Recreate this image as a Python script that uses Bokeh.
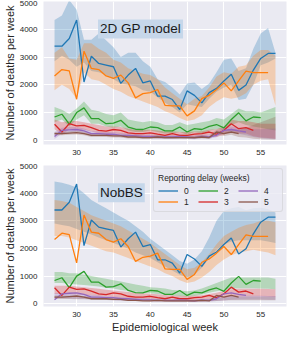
from bokeh.plotting import figure
from bokeh.layouts import column
from bokeh.models import Range1d, FixedTicker, Label, Legend, LegendItem
from bokeh.embed import file_html
from bokeh.resources import INLINE

weeks = list(range(27, 58))

# observed counts by reporting delay (weeks 27..)
obs_d0 = [3390, 3390, 3670, 4330, 2100, 3030, 2770, 2710, 2650, 2050, 2350, 2590, 2070, 2140, 1590, 1590,
          1470, 1110, 1780, 1620, 1350, 1720, 1870, 2140, 2380, 1800, 1990, 2530, 2950, 3130, 3130]
obs_d1 = [2320, 2550, 2500, 1480, 3210, 2590, 2550, 2320, 2230, 2350, 2070, 1530, 1680, 1720, 1830, 1260,
          1240, 1240, 880, 1060, 1500, 1620, 1830, 2070, 1780, 2140, 2490, 2440, 2440, 2440]
obs_d2 = [840, 940, 580, 1000, 1170, 780, 780, 600, 620, 720, 480, 400, 390, 480, 460, 340, 340, 480, 300,
          420, 390, 500, 570, 450, 750, 990, 700, 840, 820]
obs_d3 = [580, 300, 600, 520, 540, 460, 360, 330, 390, 360, 270, 240, 240, 270, 220, 180, 240, 180, 180,
          220, 240, 300, 220, 360, 600, 420, 460, 360]
obs_d4 = [140, 360, 380, 390, 340, 240, 240, 220, 220, 180, 180, 160, 140, 140, 120, 120, 120, 140, 120,
          100, 140, 120, 180, 360, 390, 340, 300]
obs_d5 = [240, 240, 260, 280, 240, 180, 180, 180, 160, 160, 120, 120, 100, 100, 120, 100, 100, 100, 100,
          100, 120, 100, 300, 240, 300, 240]
observed = [obs_d0, obs_d1, obs_d2, obs_d3, obs_d4, obs_d5]

# 2D GP model prediction intervals (lower, upper)
gp_lo_d0 = [2850, 3050, 2900, 2650, 2800, 2500, 2450, 2350, 2200, 2050, 2000, 1950, 1800, 1750, 1550, 1350,
            1200, 1000, 1300, 1250, 1200, 1500, 1750, 1900, 2000, 1450, 1500, 2000, 2700, 2800, 2950]
gp_hi_d0 = [4330, 4500, 5050, 4700, 3620, 3620, 3850, 3600, 3350, 3000, 3150, 3150, 2850, 2650, 2200, 2100,
            1900, 1650, 2050, 2080, 1850, 2050, 2450, 2900, 2950, 2500, 2600, 3300, 3850, 4050, 3150]
gp_lo_d1 = [1800, 2000, 1850, 1500, 2450, 2200, 2150, 2000, 1850, 1750, 1600, 1500, 1400, 1300, 1200, 1050,
            950, 800, 700, 750, 900, 1200, 1400, 1550, 1500, 1550, 1700, 2000, 2150, 2200, 1250]
gp_hi_d1 = [3150, 3350, 2950, 2900, 3500, 3500, 3300, 3150, 2900, 2800, 2600, 2500, 2400, 2350, 2200, 1900,
            1700, 1500, 1300, 1500, 1600, 1900, 2300, 2450, 2400, 2650, 2700, 3050, 3250, 3250, 3050]
gp_lo_d2 = [650, 750, 500, 750, 900, 600, 600, 500, 450, 500, 350, 300, 300, 350, 300, 250, 250, 300, 200,
            300, 250, 350, 400, 350, 550, 650, 550, 500, 450, 400, 350]
gp_hi_d2 = [1200, 1100, 950, 1150, 1400, 1100, 1050, 950, 900, 1000, 750, 700, 650, 700, 650, 550, 550, 650,
            550, 600, 650, 700, 800, 750, 950, 1150, 1050, 1050, 1000, 1100, 1200]
gp_lo_d3 = [400, 200, 400, 350, 380, 320, 250, 220, 250, 230, 170, 150, 150, 160, 130, 100, 130, 100, 100,
            120, 130, 180, 120, 200, 350, 250, 250, 150, 100, 80, 60]
gp_hi_d3 = [750, 650, 700, 700, 650, 600, 550, 500, 500, 480, 420, 380, 380, 380, 350, 320, 330, 300, 300,
            320, 330, 380, 400, 500, 750, 700, 700, 650, 600, 600, 600]
gp_lo_d4 = [50, 250, 280, 290, 250, 160, 160, 150, 150, 110, 110, 100, 80, 80, 60, 60, 60, 80, 60, 40, 80,
            60, 110, 270, 280, 240, 180, 120, 80, 60, 50]
gp_hi_d4 = [300, 450, 480, 480, 430, 330, 330, 300, 300, 260, 250, 230, 210, 210, 190, 190, 190, 210, 190,
            170, 210, 200, 260, 450, 500, 450, 420, 400, 400, 420, 430]
gp_lo_d5 = [180, 180, 200, 210, 180, 120, 120, 120, 100, 100, 70, 70, 50, 50, 70, 50, 50, 50, 50, 50, 70,
            50, 220, 160, 200, 120, 100, 60, 40, 30, 20]
gp_hi_d5 = [300, 300, 330, 350, 310, 240, 240, 240, 220, 220, 180, 180, 160, 160, 180, 160, 160, 160, 160,
            160, 180, 160, 380, 330, 420, 380, 450, 550, 650, 750, 850]
gp_bands = [(gp_lo_d0, gp_hi_d0), (gp_lo_d1, gp_hi_d1), (gp_lo_d2, gp_hi_d2),
            (gp_lo_d3, gp_hi_d3), (gp_lo_d4, gp_hi_d4), (gp_lo_d5, gp_hi_d5)]

# NobBS prediction intervals (lower, upper)
nb_lo_d0 = [2900, 2850, 2800, 2700, 2600, 2500, 2400, 2300, 2200, 2100, 2000, 1850, 1750, 1650, 1500, 1350,
            1200, 1050, 950, 1050, 1300, 1650, 1950, 2150, 2250, 2300, 2300, 2300, 2300, 2250, 2200]
nb_hi_d0 = [4420, 4380, 4300, 4200, 4000, 3750, 3600, 3450, 3300, 3150, 3000, 2800, 2600, 2350, 2150, 1950,
            1750, 1550, 1450, 1600, 1900, 2400, 3000, 3350, 3450, 3500, 3380, 3450, 3470, 3420, 3300]
nb_lo_d1 = [2450, 2450, 2400, 2300, 2200, 2100, 2000, 1900, 1850, 1750, 1650, 1550, 1450, 1350, 1250, 1100,
            1000, 850, 750, 800, 950, 1150, 1400, 1600, 1750, 1850, 1900, 1950, 1900, 1850, 1750]
nb_hi_d1 = [3750, 3720, 3650, 3500, 3350, 3200, 3100, 3000, 2900, 2800, 2650, 2500, 2350, 2200, 2000, 1800,
            1600, 1400, 1250, 1300, 1500, 1800, 2150, 2450, 2600, 2750, 2850, 2900, 3000, 3000, 2950]
nb_lo_d2 = [750, 750, 720, 700, 680, 650, 620, 580, 550, 500, 470, 440, 400, 380, 350, 330, 300, 280, 260,
            280, 330, 400, 450, 500, 550, 560, 560, 560, 550, 540, 520]
nb_hi_d2 = [1150, 1150, 1100, 1100, 1050, 1000, 950, 900, 850, 800, 750, 700, 650, 600, 580, 550, 500, 480,
            450, 480, 550, 650, 750, 850, 950, 950, 950, 950, 950, 950, 900]
nb_lo_d3 = [350, 350, 340, 330, 320, 300, 280, 260, 240, 220, 200, 190, 180, 170, 160, 150, 140, 130, 130,
            130, 140, 160, 190, 220, 250, 260, 260, 260, 260, 250, 240]
nb_hi_d3 = [650, 650, 650, 620, 600, 570, 540, 510, 480, 450, 420, 400, 380, 360, 340, 320, 300, 290, 280,
            290, 310, 350, 400, 460, 520, 540, 540, 540, 540, 530, 520]
nb_lo_d4 = [200, 200, 190, 180, 170, 160, 150, 140, 130, 120, 110, 100, 95, 90, 85, 80, 75, 70, 70, 70, 75,
            85, 100, 120, 140, 150, 150, 150, 150, 145, 140]
nb_hi_d4 = [380, 380, 370, 360, 340, 320, 300, 280, 260, 240, 220, 210, 200, 190, 180, 170, 160, 150, 150,
            150, 160, 180, 210, 250, 280, 290, 290, 290, 290, 280, 280]
nb_lo_d5 = [170, 170, 170, 165, 160, 150, 140, 135, 130, 120, 110, 100, 95, 90, 85, 80, 75, 75, 75, 75, 80,
            90, 100, 115, 125, 130, 130, 130, 130, 130, 130]
nb_hi_d5 = [300, 300, 300, 290, 280, 260, 250, 240, 230, 220, 200, 190, 180, 170, 160, 150, 140, 140, 140,
            140, 150, 170, 190, 220, 240, 250, 250, 250, 250, 250, 250]
nb_bands = [(nb_lo_d0, nb_hi_d0), (nb_lo_d1, nb_hi_d1), (nb_lo_d2, nb_hi_d2),
            (nb_lo_d3, nb_hi_d3), (nb_lo_d4, nb_hi_d4), (nb_lo_d5, nb_hi_d5)]

delay_labels = ["0", "1", "2", "3", "4", "5"]
colors = ["#1f77b4", "#ff7f0e", "#2ca02c", "#d62728", "#9467bd", "#8c564b"]
x_ticks = [30, 35, 40, 45, 50, 55]
y_ticks = [0, 1000, 2000, 3000, 4000, 5000]

FONT = "Liberation Sans"
BG = "#EAEAF2"
TXT = "#262626"


def make_fig(bands, ymin, fh, top, bottom, title_text):
    p = figure(frame_width=243, frame_height=fh, output_backend="svg", toolbar_location=None,
               x_range=Range1d(25.5, 58.5), y_range=Range1d(ymin, 5000),
               min_border_left=36, min_border_right=4, min_border_top=top,
               min_border_bottom=bottom)
    p.background_fill_color = BG
    p.border_fill_color = "white"
    p.outline_line_color = None
    for g in (p.xgrid, p.ygrid):
        g.grid_line_color = "white"
        g.grid_line_width = 1.1
    p.xaxis.ticker = FixedTicker(ticks=x_ticks)
    p.yaxis.ticker = FixedTicker(ticks=y_ticks)
    for ax in (p.xaxis[0], p.yaxis[0]):
        ax.axis_line_color = None
        ax.major_tick_line_color = None
        ax.minor_tick_line_color = None
        ax.major_tick_out = 0
        ax.major_tick_in = 0
        ax.minor_tick_out = 0
        ax.major_label_text_font = FONT
        ax.major_label_text_font_size = "8px"
        ax.major_label_text_color = TXT
        ax.axis_label_text_font = FONT
        ax.axis_label_text_font_size = "11px"
        ax.axis_label_text_font_style = "normal"
        ax.axis_label_text_color = TXT
    p.xaxis.major_label_standoff = 5
    p.yaxis.major_label_standoff = 6
    p.yaxis.axis_label = "Number of deaths per week"
    p.yaxis.axis_label_standoff = 1
    renderers = []
    for (lo, hi), c in zip(bands, colors):
        p.varea(x=weeks, y1=lo, y2=hi, fill_color=c, fill_alpha=0.28)
    for obs, c in zip(observed, colors):
        r = p.line(x=weeks[:len(obs)], y=obs, line_color=c, line_width=1.3)
        renderers.append(r)
    lab = Label(x=32.9, y=4010, text=title_text, text_font=FONT, text_font_size="13.5px",
                text_color="#1a1a1a", text_baseline="middle", text_align="left",
                background_fill_color="#c6d7ea", background_fill_alpha=1.0, padding=2)
    p.add_layout(lab)
    return p, renderers


p1, _ = make_fig(gp_bands, -150, 143, 1, 19, "2D GP model")
p2, rends = make_fig(nb_bands, -100, 141, 2, 27, "NobBS")
p2.xaxis.axis_label = "Epidemiological week"
p2.xaxis.axis_label_standoff = 1

legend = Legend(items=[LegendItem(label=l, renderers=[r]) for l, r in zip(delay_labels, rends)],
                location="top_right", title="Reporting delay (weeks)", nrows=2,
                orientation="vertical")
legend.title_text_font = FONT
legend.title_text_font_size = "8.5px"
legend.title_text_font_style = "normal"
legend.title_text_color = TXT
legend.title_standoff = 2
legend.label_text_font = FONT
legend.label_text_font_size = "8.5px"
legend.label_text_color = TXT
legend.glyph_width = 20
legend.glyph_height = 11
legend.label_height = 11
legend.label_width = 14
legend.label_standoff = 6
legend.spacing = 0
legend.padding = 4
legend.margin = 3
legend.background_fill_color = BG
legend.background_fill_alpha = 0.8
legend.border_line_color = "#cccccc"
legend.border_line_width = 1
legend.border_radius = 3
p2.add_layout(legend)

layout = column(p1, p2, spacing=0)
open("out.html", "w").write(file_html(layout, INLINE))
